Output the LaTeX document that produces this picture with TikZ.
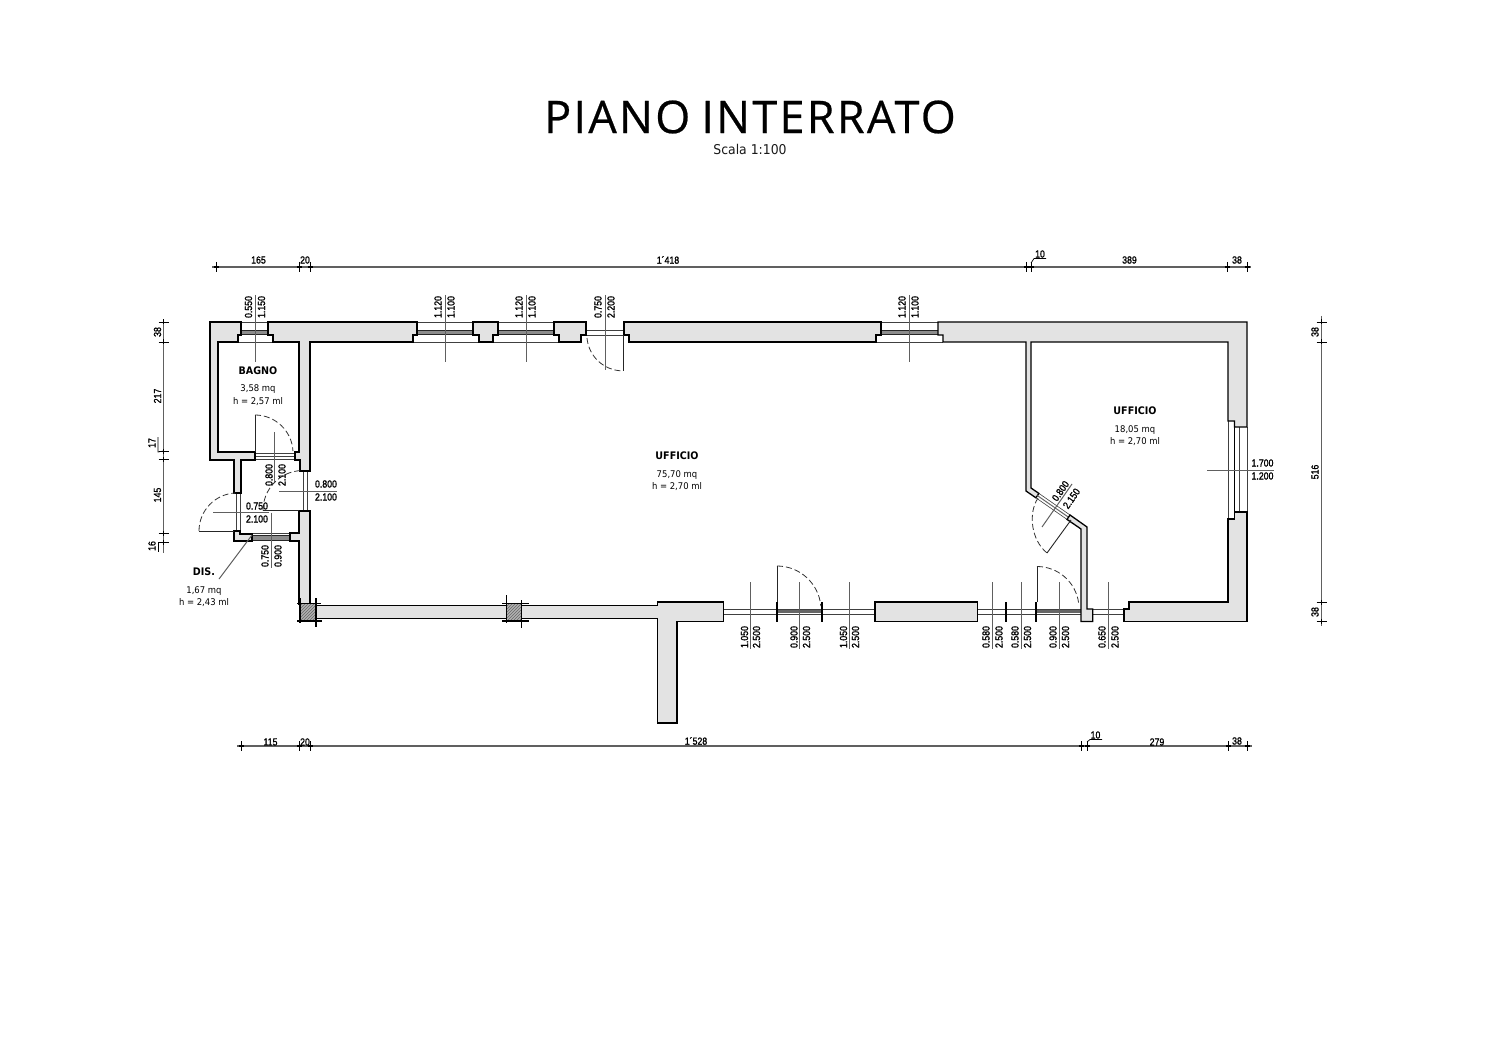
\documentclass[tikz,border=0pt]{standalone}
\usepackage{fontspec}
\usetikzlibrary{patterns}
\setmainfont{DejaVu Sans}
\newfontfamily\dimfont[FakeStretch=0.85,FakeBold=1.2]{Liberation Sans}
\newfontfamily\roomfont[FakeStretch=0.92]{DejaVu Sans}
\newfontfamily\titlefont[LetterSpace=5,WordSpace=0.8,FakeBold=0.5]{Open Sans}
\definecolor{wallgray}{HTML}{E3E3E3}
\definecolor{dimgray}{HTML}{606060}
\newcount\lblno
\newcommand{\lbl}[4][0]{\global\advance\lblno by 1
  \node[dimlab,rotate=#1] (d\the\lblno) at (#2,#3) {#4};}
\newcommand{\room}[5]{%
  \node[roomb] (#1a) at (#2,#3) {#4};
  \node[roomt] (#1b) at (#2,#3+20) {#5};}
\newcommand{\tkh}[2]{\draw[tick] (#1,#2-5) -- (#1,#2+5); \draw[tickb] (#1-2.5,#2) -- (#1+2.5,#2);}
\newcommand{\tkv}[2]{\draw[tick] (#1-5,#2) -- (#1+5,#2); \draw[tickb] (#1,#2-2.5) -- (#1,#2+2.5);}
\tikzset{
  x=1pt,y=-1pt,
  wall/.style={draw=black,line width=1.3pt,fill=wallgray,line join=miter},
  dimline/.style={draw=dimgray,line width=1pt},
  mainline/.style={draw=dimgray,line width=1.2pt},
  tick/.style={draw=black,line width=0.7pt},
  tickb/.style={draw=black,line width=1.3pt},
  thinl/.style={draw=black!75,line width=0.6pt},
  glass/.style={fill=black!45,draw=black!85,line width=0.6pt},
  swing/.style={draw=black!80,line width=0.8pt,dash pattern=on 6pt off 3pt},
  leaf/.style={draw=black!85,line width=0.9pt},
  jamb/.style={draw=black,line width=1.8pt},
  dimlab/.style={font=\dimfont\fontsize{10.3}{11}\selectfont,inner sep=0pt,text=black},
  roomb/.style={font=\roomfont\bfseries\fontsize{10.4}{11}\selectfont,inner sep=0pt,text=black},
  roomt/.style={font=\roomfont\fontsize{9.2}{12.5}\selectfont,inner sep=0pt,align=center,text=black,anchor=north,yshift=6pt},
  col/.style={draw=black,line width=1.1pt,fill=black!30,postaction={pattern=north east lines,pattern color=black!60}},
}
\begin{document}
\begin{tikzpicture}
\useasboundingbox[fill=white] (0,0) rectangle (1500,1059);
% title
\node[font=\titlefont\fontsize{45}{48}\selectfont,inner sep=0pt] (title) at (750,117) {PIANO INTERRATO};
\node[font=\roomfont\fontsize{13.5}{15}\selectfont,inner sep=0pt,text=black!90] (scale) at (750,149) {Scala 1:100};

% ----- openings (thin lines, under walls)
\foreach \a/\b/\c/\d in {241/268/238/273,417/473/413/479,498/554/493/559,881/938/876/943}{
  \draw[thinl] (\a,322) -- (\b,322);
  \draw[thinl] (\c,342) -- (\d,342);
  \draw[glass] (\a,330) rectangle (\b,334.5);
}
\draw[thinl] (586,330) -- (624,330) (586,335) -- (624,335);
\draw[thinl] (255,453) -- (295,453) (255,456) -- (295,456) (255,459.5) -- (295,459.5);
\draw[thinl] (303.3,471) -- (303.3,511) (307.7,471) -- (307.7,511);
\draw[thinl] (236,493) -- (236,531) (240,493) -- (240,531);
\draw[glass] (252,535) rectangle (290,540);
\draw[thinl] (252,533) -- (290,533);
% right window
\draw[thinl] (1228,421) -- (1228,519) (1239,427) -- (1239,512) (1247,427) -- (1247,512);
\draw[draw=black,line width=0.9pt] (1234.5,427) -- (1234.5,512);
% bottom openings
\draw[thinl] (723.5,609) -- (875,609) (723.5,614.5) -- (875,614.5);
\draw[thinl] (977.7,609) -- (1081,609) (977.7,614.5) -- (1081,614.5);
\draw[thinl] (1092.7,609) -- (1124,609) (1092.7,614.5) -- (1124,614.5);
\fill[black!60] (777,609.5) rectangle (822,613);
\fill[black!60] (1036,609.5) rectangle (1081,613);
\draw[jamb] (777,602) -- (777,622) (822,602) -- (822,622) (1006,602) -- (1006,622) (1036,602) -- (1036,622);

% ----- walls
\draw[wall] (210,322) -- (241,322) -- (241,335) -- (238,335) -- (238,342) -- (218,342) -- (218,452) -- (255,452) -- (255,460) -- (241,460) -- (241,493) -- (234,493) -- (234,460) -- (210,460) -- cycle;
\draw[wall] (268,322) -- (417,322) -- (417,335) -- (413,335) -- (413,342) -- (310,342) -- (310,471) -- (300,471) -- (300,460) -- (295,460) -- (295,452) -- (299,452) -- (299,342) -- (273,342) -- (273,335) -- (268,335) -- cycle;
\draw[wall] (473,322) -- (498,322) -- (498,335) -- (493,335) -- (493,342) -- (479,342) -- (479,335) -- (473,335) -- cycle;
\draw[wall] (554,322) -- (586,322) -- (586,335) -- (581,335) -- (581,342) -- (559,342) -- (559,335) -- (554,335) -- cycle;
\draw[wall] (624,322) -- (881,322) -- (881,335) -- (876,335) -- (876,342) -- (629,342) -- (629,335) -- (624,335) -- cycle;
% upper right wall, partition and diagonal down to the door
\draw[wall] (938,322) -- (1247,322) -- (1247,427) -- (1234.5,427) -- (1234.5,421) -- (1228,421) -- (1228,342) -- (1031,342) -- (1031,488) -- (1038.9,493.4) -- (1035.9,497.8) -- (1026,491) -- (1026,342) -- (943,342) -- (943,335) -- (938,335) -- cycle;
% diagonal door section
\draw[thinl] (1035.9,497.8) -- (1067,519.4) (1038.9,493.4) -- (1070,515);
\draw[draw=black!60,line width=1pt] (1037.4,495.6) -- (1068.5,517.2);
% diagonal remainder and wall down to the lower opening
\draw[wall] (1067,519.4) -- (1070,515) -- (1087,527) -- (1087,609) -- (1092.7,609) -- (1092.7,621.5) -- (1081,621.5) -- (1081,529) -- cycle;
% lower right
\draw[wall] (1247,512) -- (1247,621.5) -- (1124,621.5) -- (1124,609) -- (1129,609) -- (1129,602) -- (1228,602) -- (1228,519) -- (1234.5,519) -- (1234.5,512) -- cycle;
% bottom block
\draw[wall] (875,602) rectangle (977.7,621.5);
% T wall and long bottom wall
\draw[wall] (316,605.7) -- (657.5,605.7) -- (657.5,602) -- (723.5,602) -- (723.5,621.5) -- (677,621.5) -- (677,723) -- (657.5,723) -- (657.5,618.3) -- (316,618.3) -- cycle;
% dis walls
\draw[wall] (234,531) -- (240,531) -- (240,534) -- (252,534) -- (252,541) -- (234,541) -- cycle;
\draw[wall] (290,533) -- (299,533) -- (299,511) -- (310,511) -- (310,604) -- (299,604) -- (299,541) -- (290,541) -- cycle;
% columns
\draw[col] (300,603.5) rectangle (316,621);
\draw[col] (506.5,603.5) rectangle (521.5,621);
\draw[tickb] (300,598) -- (300,623) (316,598) -- (316,627) (297,603.5) -- (321,603.5) (297,621) -- (322,621);
\draw[tickb] (506.5,595) -- (506.5,623) (521.5,600) -- (521.5,628) (502,603.5) -- (529,603.5) (502,621) -- (529,621);

% ----- door leaves and swings (y axis points down: angles are mirrored)
\draw[leaf] (623,335) -- (623,371);
\draw[swing] (587,338) arc[start angle=175,end angle=90,radius=36];
\draw[leaf] (255,452) -- (255,415);
\draw[swing] (255,415) arc[start angle=-90,end angle=-3,radius=38];
\draw[leaf] (299,510.5) -- (263,510.5);
\draw[swing] (263,510.5) arc[start angle=-180,end angle=-92,radius=40];
\draw[leaf] (234,531) -- (199,531);
\draw[swing] (199,531) arc[start angle=-180,end angle=-92,radius=38];
\draw[leaf] (777,602) -- (777,566);
\draw[swing] (777,566) arc[start angle=-90,end angle=-5,radius=44];
\draw[leaf] (1037,602) -- (1037,566.5);
\draw[swing] (1037,566.5) arc[start angle=-90,end angle=-8,radius=42];
\draw[leaf] (1071,520) -- (1047,553);
\draw[swing] (1038,498) .. controls (1028,513) and (1031,540) .. (1047,553);

% ----- dimension rays
\foreach \x in {255,445,526,909}{\draw[dimline] (\x,295) -- (\x,362);}
\draw[dimline] (605,295) -- (605,370);
\draw[dimline] (274,432) -- (274,482);
\draw[dimline] (279,491) -- (337,491);
\draw[dimline] (213,512) -- (269,512);
\draw[dimline] (271,512.5) -- (271,568);
\draw[dimline] (1207,470) -- (1274,470);
\draw[dimline] (1042,527) -- (1072,484);
\foreach \x in {750,799,849,992,1021,1059,1108}{\draw[dimline] (\x,582) -- (\x,649);}
\draw[dimline] (252,535) -- (219,579);

% ----- main dimension chains
\draw[mainline] (212,267) -- (1251,267);
\foreach \x in {216,299,310,1026,1031,1227,1247}{\tkh{\x}{267}}
\draw[mainline] (237,746) -- (1252,746);
\foreach \x in {241,299,310,1081,1087,1228,1247}{\tkh{\x}{746}}
\draw[mainline] (163.5,320) -- (163.5,553);
\foreach \y in {322,342,451,459.5,533,542}{\tkv{163.5}{\y}}
\draw[mainline] (1321.5,316) -- (1321.5,626);
\foreach \y in {322,342,602,621}{\tkv{1321.5}{\y}}
% small leaders
\draw[tick] (1031,263) -- (1034,258.5) -- (1046,258.5);
\draw[tick] (1087,742) -- (1090,739.5) -- (1102,739.5);
\draw[tick] (163.5,451) -- (158,452) -- (158,437);
\draw[tick] (163.5,542) -- (158,542) -- (158,552);

% ----- labels
\lbl{258.5}{260}{165}\lbl{305}{260}{20}\lbl{668}{260}{1´418}\lbl{1040}{254}{10}\lbl{1129.5}{260}{389}\lbl{1237}{260}{38}
\lbl{270.5}{742}{115}\lbl{305}{742}{20}\lbl{696}{741}{1´528}\lbl{1095.5}{735}{10}\lbl{1157}{742}{279}\lbl{1237}{741}{38}
\lbl[90]{157.5}{332}{38}\lbl[90]{157.5}{396}{217}\lbl[90]{152}{443}{17}\lbl[90]{157.5}{495}{145}\lbl[90]{152}{546}{16}
\lbl[90]{1315}{332}{38}\lbl[90]{1315}{472}{516}\lbl[90]{1315}{612}{38}
\lbl[90]{248.5}{307}{0.550}\lbl[90]{261.5}{307}{1.150}
\lbl[90]{438}{307}{1.120}\lbl[90]{451}{307}{1.100}
\lbl[90]{519}{307}{1.120}\lbl[90]{532}{307}{1.100}
\lbl[90]{598}{307}{0.750}\lbl[90]{611}{307}{2.200}
\lbl[90]{902}{307}{1.120}\lbl[90]{915}{307}{1.100}
\lbl[90]{269}{475}{0.800}\lbl[90]{282}{475}{2.100}
\lbl{326}{484}{0.800}\lbl{326}{497}{2.100}
\lbl{257}{506}{0.750}\lbl{257}{519}{2.100}
\lbl[90]{265}{556}{0.750}\lbl[90]{278}{556}{0.900}
\lbl{1262.5}{463}{1.700}\lbl{1262.5}{476}{1.200}
\lbl[55]{1060.5}{491}{0.800}\lbl[55]{1071.5}{498.5}{2.150}
\lbl[90]{744.5}{637}{1.050}\lbl[90]{756.5}{637}{2.500}
\lbl[90]{794}{637}{0.900}\lbl[90]{806.5}{637}{2.500}
\lbl[90]{843.5}{637}{1.050}\lbl[90]{855.5}{637}{2.500}
\lbl[90]{986}{637}{0.580}\lbl[90]{999}{637}{2.500}
\lbl[90]{1015}{637}{0.580}\lbl[90]{1027.5}{637}{2.500}
\lbl[90]{1053}{637}{0.900}\lbl[90]{1065.5}{637}{2.500}
\lbl[90]{1102}{637}{0.650}\lbl[90]{1115}{637}{2.500}
\room{ba}{258}{370.5}{BAGNO}{3,58 mq\\h = 2,57 ml}
\room{di}{204}{572}{DIS.}{1,67 mq\\h = 2,43 ml}
\room{ua}{677}{456}{UFFICIO}{75,70 mq\\h = 2,70 ml}
\room{ub}{1135}{411}{UFFICIO}{18,05 mq\\h = 2,70 ml}
\end{tikzpicture}
\end{document}
